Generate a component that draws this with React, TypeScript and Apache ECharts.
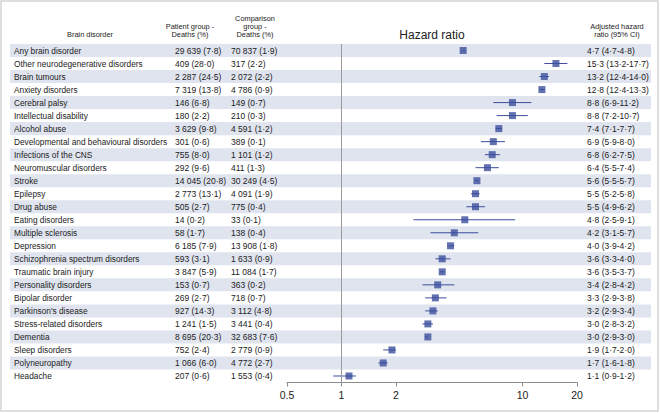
import React, { useEffect, useRef } from "react";
import * as echarts from "echarts";

const disorders = [
  "Any brain disorder",
  "Other neurodegenerative disorders",
  "Brain tumours",
  "Anxiety disorders",
  "Cerebral palsy",
  "Intellectual disability",
  "Alcohol abuse",
  "Developmental and behavioural disorders",
  "Infections of the CNS",
  "Neuromuscular disorders",
  "Stroke",
  "Epilepsy",
  "Drug abuse",
  "Eating disorders",
  "Multiple sclerosis",
  "Depression",
  "Schizophrenia spectrum disorders",
  "Traumatic brain injury",
  "Personality disorders",
  "Bipolar disorder",
  "Parkinson's disease",
  "Stress-related disorders",
  "Dementia",
  "Sleep disorders",
  "Polyneuropathy",
  "Headache",
];

const patientDeaths = [
  "29 639 (7·8)", "409 (28·0)", "2 287 (24·5)", "7 319 (13·8)", "146 (6·8)",
  "180 (2·2)", "3 629 (9·8)", "301 (0·6)", "755 (8·0)", "292 (9·6)",
  "14 045 (20·8)", "2 773 (13·1)", "505 (2·7)", "14 (0·2)", "58 (1·7)",
  "6 185 (7·9)", "593 (3·1)", "3 847 (5·9)", "153 (0·7)", "269 (2·7)",
  "927 (14·3)", "1 241 (1·5)", "8 695 (20·3)", "752 (2·4)", "1 066 (6·0)",
  "207 (0·6)",
];

const comparisonDeaths = [
  "70 837 (1·9)", "317 (2·2)", "2 072 (2·2)", "4 786 (0·9)", "149 (0·7)",
  "210 (0·3)", "4 591 (1·2)", "389 (0·1)", "1 101 (1·2)", "411 (1·3)",
  "30 249 (4·5)", "4 091 (1·9)", "775 (0·4)", "33 (0·1)", "138 (0·4)",
  "13 908 (1·8)", "1 633 (0·9)", "11 084 (1·7)", "363 (0·2)", "718 (0·7)",
  "3 112 (4·8)", "3 441 (0·4)", "32 683 (7·6)", "2 779 (0·9)", "4 772 (2·7)",
  "1 553 (0·4)",
];

const hazardRatio = [
  4.7, 15.3, 13.2, 12.8, 8.8, 8.8, 7.4, 6.9, 6.8, 6.4, 5.6, 5.5, 5.5, 4.8, 4.2,
  4.0, 3.6, 3.6, 3.4, 3.3, 3.2, 3.0, 3.0, 1.9, 1.7, 1.1,
];
const ciLow = [
  4.7, 13.2, 12.4, 12.4, 6.9, 7.2, 7.1, 5.9, 6.2, 5.5, 5.5, 5.2, 4.9, 2.5, 3.1,
  3.9, 3.3, 3.5, 2.8, 2.9, 2.9, 2.8, 2.9, 1.7, 1.6, 0.9,
];
const ciHigh = [
  4.8, 17.7, 14.0, 13.3, 11.2, 10.7, 7.7, 8.0, 7.5, 7.4, 5.7, 5.8, 6.2, 9.1, 5.7,
  4.2, 4.0, 3.7, 4.2, 3.8, 3.4, 3.2, 3.0, 2.0, 1.8, 1.2,
];

const axisTicks = [0.5, 1, 2, 10, 20];

const fmt = (v: number) => v.toFixed(1).replace(".", "·");
const hrLabels = hazardRatio.map(
  (v, i) => `${fmt(v)} (${fmt(ciLow[i])}-${fmt(ciHigh[i])})`
);

const FONT = "'Liberation Sans', Arial, Helvetica, sans-serif";
const TEXT = "#222222";
const BLUE = "#3b4e9c";
const STRIPE = "#dfe4ee";

export default function App() {
  const ref = useRef<HTMLDivElement>(null);

  useEffect(() => {
    document.body.style.margin = "0";
    if (!ref.current) return;
    const chart = echarts.init(ref.current, undefined, { renderer: "svg" });

    const labelAxis = (
      data: string[],
      position: string,
      margin: number,
      size: number
    ) => ({
      type: "category",
      data,
      inverse: true,
      position,
      gridIndex: 0,
      axisLine: { show: false },
      axisTick: { show: false },
      splitLine: { show: false },
      axisLabel: {
        show: true,
        align: "left",
        margin,
        fontSize: size,
        color: TEXT,
        fontFamily: FONT,
        interval: 0,
      },
    });

    const header = (x: number, y: number, lines: string[], size = 7.4) =>
      lines.map((t, k) => ({
        type: "text",
        x,
        y: y + k * 8,
        style: {
          text: t,
          fontSize: size,
          fontFamily: FONT,
          fill: TEXT,
          align: "center",
          verticalAlign: "middle",
        },
      }));

    const option: any = {
      animation: false,
      backgroundColor: "#ffffff",
      textStyle: { fontFamily: FONT },
      grid: { left: 287, right: 83, top: 44, bottom: 30.5, containLabel: false },
      xAxis: {
        type: "log",
        logBase: 10,
        min: 0.5,
        max: 20,
        axisLine: { show: true, lineStyle: { color: "#8c8c8c", width: 1 } },
        axisTick: {
          show: true,
          length: 4,
          lineStyle: { color: "#8c8c8c" },
          customValues: axisTicks,
        },
        axisLabel: {
          customValues: axisTicks,
          fontSize: 10.5,
          color: TEXT,
          fontFamily: FONT,
          margin: 7,
          formatter: (v: number) => String(v),
        },
        splitLine: { show: false },
        minorTick: { show: false },
      },
      yAxis: [
        labelAxis(disorders, "left", 273, 8.3),
        labelAxis(patientDeaths, "left", 112, 8.5),
        labelAxis(comparisonDeaths, "left", 56, 8.5),
        labelAxis(hrLabels, "right", 10, 8.5),
      ],
      graphic: [
        {
          type: "rect",
          shape: { x: 1, y: 1, width: 657, height: 410 },
          style: { fill: "none", stroke: "#d4d4d4", lineWidth: 1.5 },
          silent: true,
        },
        ...header(90, 34, ["Brain disorder"]),
        ...header(190, 26.5, ["Patient group -", "Deaths (%)"]),
        ...header(255, 18, ["Comparison", "group -", "Deaths (%)"]),
        ...header(617, 26, ["Adjusted hazard", "ratio (95% CI)"]),
        {
          type: "text",
          x: 432,
          y: 35,
          style: {
            text: "Hazard ratio",
            fontSize: 12,
            fontFamily: FONT,
            fill: TEXT,
            align: "center",
            verticalAlign: "middle",
          },
        },
      ],
      series: [
        {
          type: "custom",
          name: "stripes",
          xAxisIndex: 0,
          yAxisIndex: 0,
          clip: false,
          silent: true,
          z: 0,
          data: disorders.map((_, i) => [1, i]),
          renderItem: (params: any, api: any) => {
            const i = api.value(1);
            if (i % 2 !== 0) return null;
            const c = api.coord([1, i]);
            const h = api.size([0, 1])[1];
            return {
              type: "rect",
              shape: { x: 10, y: c[1] - h / 2, width: 641, height: h },
              style: { fill: STRIPE },
            };
          },
        },
        {
          type: "custom",
          name: "ci",
          xAxisIndex: 0,
          yAxisIndex: 0,
          clip: false,
          silent: true,
          z: 2,
          data: disorders.map((_, i) => [ciLow[i], ciHigh[i], i]),
          encode: { x: [0, 1], y: 2 },
          renderItem: (params: any, api: any) => {
            const a = api.coord([api.value(0), api.value(2)]);
            const b = api.coord([api.value(1), api.value(2)]);
            return {
              type: "line",
              shape: { x1: a[0], y1: a[1], x2: b[0], y2: b[1] },
              style: { stroke: BLUE, lineWidth: 1 },
            };
          },
        },
        {
          type: "scatter",
          name: "hr",
          xAxisIndex: 0,
          yAxisIndex: 0,
          symbol: "rect",
          symbolSize: 7,
          z: 3,
          itemStyle: { color: BLUE },
          data: hazardRatio.map((v, i) => [v, i]),
          markLine: {
            silent: true,
            symbol: "none",
            label: { show: false },
            lineStyle: { color: "#9a9a9a", width: 1, type: "solid" },
            data: [{ xAxis: 1 }],
          },
        },
      ],
    };

    chart.setOption(option);
    return () => chart.dispose();
  }, []);

  return <div ref={ref} style={{ width: 660, height: 413 }} />;
}
